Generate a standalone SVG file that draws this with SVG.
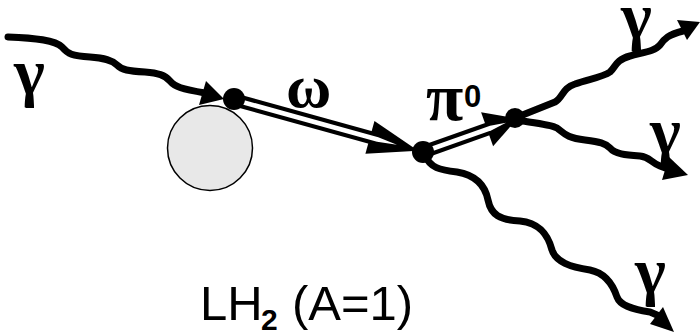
<svg xmlns="http://www.w3.org/2000/svg" width="700" height="336" viewBox="0 0 700 336">
<style>
.wave{fill:none;stroke:#000;stroke-width:7;stroke-linecap:round;stroke-linejoin:round}
.head{fill:#000}
.dot{fill:#000}
.greek{font-family:"Liberation Serif","DejaVu Serif",serif;fill:#000}
.gam{font-size:66px;font-weight:bold}
.sans{font-family:"Liberation Sans",Arial,sans-serif;fill:#000}
</style>
<rect width="700" height="336" fill="#fff"/>
<g id="target">
<circle cx="210" cy="148" r="42.5" fill="#e8e8e8" stroke="#000" stroke-width="1.5"/>
</g>
<g id="connectors">
<g id="photon-in">
<path class="wave" d="M8,37 C35,38 55,40 62,47 C68,54 72,56 90,57 C105,58 112,60 117,65 C122,70 128,71 145,72 C158,73 165,75 170,81 C175,87 182,89 205,93"/>
<polygon class="head" points="206,81 224,99 199,105"/>
</g>
<g id="omega-line" transform="translate(235,100) rotate(15.46)">
<line x1="0" y1="0" x2="150" y2="0" stroke="#000" stroke-width="13"/>
<polygon class="head" points="140,-17 190,0 140,17"/>
<polygon fill="#fff" points="0,-2.3 148,-2.3 168,0 148,2.3 0,2.3"/>
</g>
<g id="pi-line" transform="translate(423,152) rotate(-19.5)">
<line x1="0" y1="0" x2="75" y2="0" stroke="#000" stroke-width="13"/>
<polygon class="head" points="68,-18 100,0 68,18"/>
<polygon fill="#fff" points="0,-2.3 72,-2.3 88,0 72,2.3 0,2.3"/>
</g>
<g id="photon-up">
<path class="wave" d="M515,118 C530,112 545,106 555,102 C563,98 562,88 575,84 C590,79 603,77 610,72 C616,67 615,60 630,56 C645,52 655,51 660,45 C665,38 668,35 683,31"/>
<polygon class="head" points="677,20 700,22 687,40"/>
</g>
<g id="photon-mid">
<path class="wave" d="M515,120 C535,123 550,124 557,128 C564,133 566,138 585,140 C600,142 605,143 610,148 C615,154 625,155 640,156 C650,157 650,162 660,166 L668,169"/>
<polygon class="head" points="669,157 688,175 662,180"/>
</g>
<g id="photon-down">
<path class="wave" d="M425,155 C430,168 440,170 457,172 C475,175 485,185 488,200 C491,215 500,220 520,221 C540,223 548,235 552,250 C556,262 570,267 590,270 C605,273 613,285 617,297 C620,305 630,309 650,312 L657,315"/>
<polygon class="head" points="663,307 674,332 650,324"/>
</g>
</g>
<g id="vertex1"><circle class="dot" cx="234" cy="99" r="11"/></g>
<g id="vertex2"><circle class="dot" cx="423" cy="152" r="11"/></g>
<g id="vertex3"><circle class="dot" cx="515" cy="118" r="10"/></g>
<g id="labels">
<text class="greek gam" x="14" y="94">γ</text>
<text class="greek" x="286" y="107" font-size="62" font-weight="bold">ω</text>
<text class="greek" x="426" y="120" font-size="68" font-weight="bold">π</text>
<text class="sans" x="464" y="107" font-size="31" font-weight="bold">0</text>
<text class="greek gam" x="621" y="38">γ</text>
<text class="greek gam" x="650" y="153">γ</text>
<text class="greek gam" x="635" y="293">γ</text>
<text class="sans" font-size="49" y="320"><tspan x="200">LH</tspan><tspan x="261" y="330" font-size="30" font-weight="bold">2</tspan><tspan x="292" y="320">(A=1)</tspan></text>
</g>
</svg>
